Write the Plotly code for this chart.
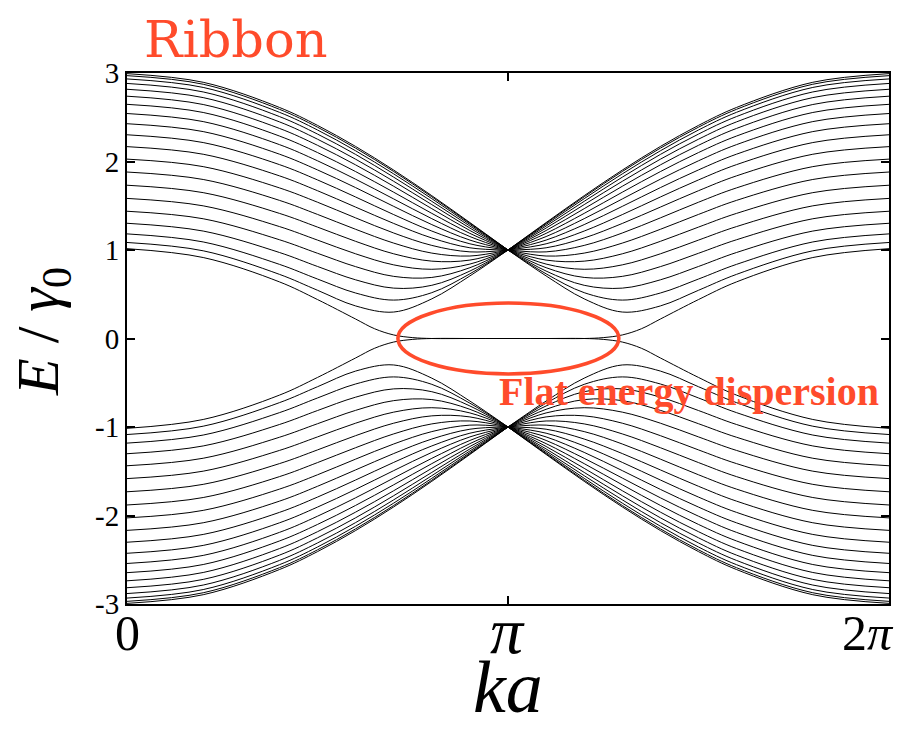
import math
import plotly.graph_objects as go

# k values (in units of pi) sampled on the left half [0, pi]
K_HALF_PI = [0.0, 0.2, 0.4, 0.5, 0.6, 0.7, 0.8, 0.9, 1.0]

# upper (positive-energy) bulk bands, E/gamma0 at K_HALF_PI (mirror symmetric about pi)
BANDS_UPPER = [
    [2.993, 2.895, 2.611, 2.408, 2.170, 1.903, 1.614, 1.310, 1.0],
    [2.970, 2.873, 2.590, 2.388, 2.151, 1.887, 1.601, 1.302, 1.0],
    [2.933, 2.837, 2.556, 2.356, 2.121, 1.860, 1.580, 1.289, 1.0],
    [2.882, 2.786, 2.508, 2.310, 2.080, 1.823, 1.550, 1.271, 1.0],
    [2.816, 2.722, 2.448, 2.252, 2.026, 1.776, 1.513, 1.248, 1.0],
    [2.738, 2.644, 2.374, 2.183, 1.962, 1.720, 1.467, 1.220, 1.0],
    [2.646, 2.554, 2.288, 2.101, 1.886, 1.653, 1.414, 1.188, 1.0],
    [2.542, 2.451, 2.191, 2.008, 1.800, 1.577, 1.354, 1.152, 1.0],
    [2.427, 2.338, 2.083, 1.905, 1.705, 1.493, 1.287, 1.112, 1.0],
    [2.302, 2.214, 1.965, 1.792, 1.599, 1.400, 1.214, 1.070, 1.0],
    [2.168, 2.082, 1.838, 1.670, 1.485, 1.300, 1.136, 1.025, 1.0],
    [2.027, 1.942, 1.702, 1.540, 1.363, 1.192, 1.052, 0.979, 1.0],
    [1.881, 1.797, 1.561, 1.402, 1.234, 1.078, 0.965, 0.932, 1.0],
    [1.732, 1.648, 1.414, 1.259, 1.098, 0.957, 0.874, 0.886, 1.0],
    [1.583, 1.499, 1.265, 1.112, 0.957, 0.832, 0.782, 0.841, 1.0],
    [1.438, 1.353, 1.116, 0.963, 0.812, 0.702, 0.690, 0.800, 1.0],
    [1.302, 1.214, 0.972, 0.814, 0.663, 0.569, 0.601, 0.762, 1.0],
    [1.182, 1.091, 0.838, 0.672, 0.514, 0.434, 0.518, 0.731, 1.0],
    [1.085, 0.991, 0.725, 0.545, 0.368, 0.299, 0.448, 0.707, 1.0],
]

# edge-state band (becomes flat at E = 0)
EDGE_K_PI = [0.0, 0.2, 0.4, 0.5, 0.6, 0.65, 0.7, 0.75, 0.8, 0.9, 1.0]
EDGE_E = [1.015, 0.915, 0.64, 0.44, 0.22, 0.11, 0.04, 0.01, 0.0, 0.0, 0.0]

X_TICKS_PI = [0, 1, 2]
X_TICK_TEXT = ["0", "<i>π</i>", "2<i>π</i>"]
Y_TICKS = [3, 2, 1, 0, -1, -2, -3]
Y_TICK_TEXT = ["3", "2", "1", "0", "-1", "-2", "-3"]

RED = "#FF4B2B"
SERIF = "Liberation Serif, Times New Roman, serif"

# the page body adds an 8 px offset; plot area target: x 127..889, y 73..604
OFF = 8
W, H = 903 - OFF, 730 - OFF
L, T, R, B = 127 - OFF, 73 - OFF, 903 - 889, (OFF + H) - 604


def px_x(px):
    return (px - 127) / 762.0


def px_y(py):
    return (604 - py) / 531.0


fig = go.Figure()


def add_band(kpi, energies):
    xl = [k * math.pi for k in kpi]
    xr = [(2 - k) * math.pi for k in kpi]
    for sign in (1, -1):
        ys = [sign * e for e in energies]
        for xs in (xl, xr):
            fig.add_trace(go.Scatter(
                x=xs, y=ys, mode="lines",
                line=dict(color="black", width=1, shape="spline", smoothing=1.0),
                showlegend=False, hoverinfo="skip"))


for band in BANDS_UPPER:
    add_band(K_HALF_PI, band)
add_band(EDGE_K_PI, EDGE_E)

# ellipse around flat band
fig.add_shape(type="circle", xref="x", yref="y",
              x0=0.711 * math.pi, x1=1.291 * math.pi, y0=-0.40, y1=0.40,
              line=dict(color=RED, width=3.5))

fig.add_annotation(text="<b>Flat energy dispersion</b>", xref="paper", yref="paper",
                   x=px_x(689), y=px_y(391), xanchor="center", yanchor="middle",
                   showarrow=False, font=dict(family=SERIF, size=40, color=RED))

fig.add_annotation(text="Ribbon", xref="paper", yref="paper",
                   x=px_x(142), y=px_y(39), xanchor="left", yanchor="middle",
                   showarrow=False,
                   font=dict(family="DejaVu Serif, serif", size=51, color=RED))

fig.add_annotation(text="<i>ka</i>", xref="paper", yref="paper",
                   x=px_x(508), y=px_y(730), xanchor="center", yanchor="bottom",
                   showarrow=False, font=dict(family=SERIF, size=74, color="black"))

fig.add_annotation(text="<i>E</i> / <i>γ</i><sub>0</sub>", xref="paper", yref="paper",
                   x=px_x(42), y=px_y(332), textangle=-90,
                   xanchor="center", yanchor="middle", showarrow=False,
                   font=dict(family=SERIF, size=60, color="black"))

# x tick labels (drawn as annotations so 2π is not clipped at the page edge)
x_label_px = [(127, 633, 50), (507, 630, 66), (868, 633, 50)]
for tv, tt, (cx, cy, fs) in zip(X_TICKS_PI, X_TICK_TEXT, x_label_px):
    fig.add_annotation(text=tt, xref="x", yref="paper",
                       x=(cx - 127) / 762.0 * 2 * math.pi, y=px_y(cy),
                       xanchor="center", yanchor="middle", showarrow=False,
                       font=dict(family=SERIF, size=fs, color="black"))

fig.update_xaxes(range=[0, 2 * math.pi], tickvals=[t * math.pi for t in X_TICKS_PI],
                 showticklabels=False, ticks="inside", ticklen=8, tickwidth=1.5,
                 tickcolor="black", showline=True, linecolor="black", linewidth=2,
                 mirror="ticks", showgrid=False, zeroline=False)
fig.update_yaxes(range=[-3, 3], tickvals=Y_TICKS, ticktext=Y_TICK_TEXT,
                 ticks="inside", ticklen=8, tickwidth=1.5, tickcolor="black",
                 showline=True, linecolor="black", linewidth=2, mirror="ticks",
                 showgrid=False, zeroline=False,
                 tickfont=dict(family=SERIF, size=29, color="black"))

fig.update_layout(width=W, height=H,
                  margin=dict(l=L, r=R, t=T, b=B, autoexpand=False),
                  paper_bgcolor="white", plot_bgcolor="white", showlegend=False)

fig.write_html("out.html")
